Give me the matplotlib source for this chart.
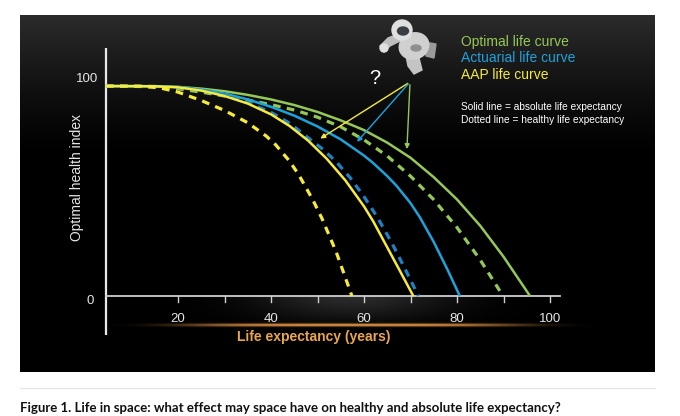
import matplotlib
matplotlib.use('Agg')
import matplotlib.pyplot as plt
from matplotlib.patches import Ellipse, Circle, Polygon
import numpy as np

# curves: (age, health index)
aap_healthy_x = [4.5, 12, 16, 20, 25, 30, 35, 39, 41, 44, 46, 49, 51, 54, 57.4]
aap_healthy_y = [97.2, 97.1, 96.4, 94.4, 90.5, 85.9, 80.2, 74.0, 70.0, 62.4, 56.0, 44.5, 35.7, 20.5, 0.0]

aap_abs_x = [4.5, 15, 20, 25, 30, 35, 40, 44, 48, 52, 56, 60, 62, 65, 68, 70.6]
aap_abs_y = [97.2, 97.1, 96.6, 95.1, 92.6, 89.1, 84.1, 78.7, 71.9, 63.5, 53.5, 41.5, 34.5, 22.5, 10.5, 0.0]

act_healthy_x = [4.5, 15, 20, 25, 30, 35, 40, 44, 48, 51, 54, 57, 60, 63, 66, 69, 71.7]
act_healthy_y = [97.2, 97.1, 96.6, 95.2, 93.0, 89.5, 85.0, 80.0, 73.2, 68.2, 62.2, 54.8, 46.0, 36.0, 24.5, 11.8, 0.0]

act_abs_x = [4.5, 15, 20, 25, 30, 35, 40, 45, 50, 55, 60, 62, 65, 67, 70, 72, 75, 78, 80.6]
act_abs_y = [97.2, 97.1, 96.7, 95.6, 93.7, 91.0, 87.6, 83.5, 78.5, 72.5, 65.0, 61.5, 55.5, 51.0,
             43.0, 36.5, 25.0, 12.0, 0.0]

opt_healthy_x = [4.5, 15, 20, 25, 30, 35, 40, 45, 50, 55, 60, 65, 70, 75, 80, 85, 89.9]
opt_healthy_y = [97.2, 96.9, 95.9, 94.4, 92.6, 90.7, 88.6, 86.1, 82.8, 78.3, 72.3, 64.8, 55.5,
                 44.6, 31.7, 16.7, 0.0]

opt_abs_x = [4.5, 15, 20, 25, 30, 35, 40, 45, 50, 55, 60, 65, 70, 75, 80, 85, 90, 95.7]
opt_abs_y = [97.2, 97.1, 96.8, 96.0, 94.8, 93.1, 91.0, 88.4, 85.2, 81.3, 76.8, 71.0, 64.0, 55.0,
             44.7, 32.5, 18.2, 0.0]

x_ticks = [20, 30, 40, 50, 60, 70, 80, 90, 100]
x_tick_labels = ['20', '', '40', '', '60', '', '80', '', '100']

legend_names = ['Optimal life curve', 'Actuarial life curve', 'AAP life curve']

arrow_start = (69.9, 99.1)
arrow_tips = [(50.1, 72.2), (58.1, 70.4), (69.2, 66.7)]

GREEN = '#95c857'
BLUE = '#1ca3dc'
BLUE_D = '#1f80c4'
YELLOW = '#f6ea3a'

fig = plt.figure(figsize=(6.8, 4.16), dpi=100, facecolor='white')
ax = fig.add_axes([20 / 680, 1 - 372 / 416, 635 / 680, 357 / 416])
x0, x1 = -13.98, 122.58
y0, y1 = -35.19, 130.09
ax.set_xlim(x0, x1)
ax.set_ylim(y0, y1)
ax.axis('off')

# dark panel, slightly lighter at the top
rows = np.linspace(0, 1, 200)
shade = np.clip(1 - rows / 0.4, 0, 1) ** 1.3 * 0.17
bg = np.repeat(shade[:, None], 2, axis=1)
bg = np.dstack([bg, bg, bg])
ax.imshow(bg, extent=[x0, x1, y0, y1], aspect='auto', zorder=0, interpolation='bilinear')

# orange glow under the x axis
gx = np.linspace(-1, 1, 500)
gy = np.linspace(0, 1, 80)
GX, GY = np.meshgrid(gx, gy)
band = np.exp(-((GY - 0.5) / 0.025) ** 2) * np.exp(-(GX / 0.6) ** 4)
haze = np.clip((GY - 0.5) / 0.5, 0, 1) ** 0.7 * np.exp(-(GX / 0.35) ** 2) * 0.3
haze[GY < 0.5] = 0
glow = np.zeros((80, 500, 4))
glow[..., 0] = np.where(band > haze, 0.95, 0.6)
glow[..., 1] = np.where(band > haze, 0.62, 0.6)
glow[..., 2] = np.where(band > haze, 0.3, 0.6)
glow[..., 3] = np.clip(band + haze, 0, 1)
ax.imshow(glow, extent=[-3, 118, -26.8, 0], aspect='auto', zorder=1, origin='lower',
          interpolation='bilinear')

# axes lines
ax.plot([4.5, 4.5], [-18, 114.8], color='#e8e8e8', lw=1.6, zorder=3, solid_capstyle='butt')
ax.plot([4.5, 102.2], [0, 0], color='#cfcfcf', lw=1.3, zorder=3)
for t, lab in zip(x_ticks, x_tick_labels):
    ax.plot([t, t], [0, -2.6], color='#cfcfcf', lw=1.0, zorder=3)
    if lab:
        ax.text(t, -10.6, lab, color='#e6e6e6', fontsize=9.5, ha='center', va='center',
                family='Liberation Sans', zorder=4)
ax.text(2.8, 100.5, '100', color='#e6e6e6', fontsize=9.5, ha='right', va='center',
        family='Liberation Sans')
ax.text(2.0, -2.5, '0', color='#e6e6e6', fontsize=9.5, ha='right', va='center',
        family='Liberation Sans')
ax.text(-1.8, 55, 'Optimal health index', color='#e6e6e6', fontsize=10, rotation=90,
        ha='center', va='center', family='Liberation Sans')
ax.text(49.2, -19.2, 'Life expectancy (years)', color='#eaa64e', fontsize=10,
        fontweight='bold', ha='center', va='center', family='Liberation Sans')

# curves
solid = dict(lw=1.8, zorder=5, solid_capstyle='butt', solid_joinstyle='round')
dash = dict(lw=2.3, zorder=5, dashes=(2.4, 2.0))
ax.plot(opt_abs_x, opt_abs_y, color=GREEN, **solid)
ax.plot(opt_healthy_x, opt_healthy_y, color=GREEN, **dash)
ax.plot(act_abs_x, act_abs_y, color=BLUE, **solid)
ax.plot(act_healthy_x, act_healthy_y, color=BLUE_D, **dash)
ax.plot(aap_abs_x, aap_abs_y, color=YELLOW, **solid)
ax.plot(aap_healthy_x, aap_healthy_y, color=YELLOW, **dash)

# arrows from the astronaut
for tip, c in zip(arrow_tips, [YELLOW, BLUE, GREEN]):
    ax.annotate('', xy=tip, xytext=arrow_start,
                arrowprops=dict(arrowstyle='-|>', color=c, lw=1.0, mutation_scale=7),
                zorder=6)
ax.text(62.4, 100.5, '?', color='white', fontsize=14.5, ha='center', va='center',
        family='Liberation Sans')

# legend text
for i, (name, c) in enumerate(zip(legend_names, [GREEN, BLUE, YELLOW])):
    fig.text(461 / 680, 1 - (42 + 16.5 * i) / 416, name, color=c, fontsize=10,
             ha='left', va='center', family='Liberation Sans')
fig.text(461 / 680, 1 - 107 / 416, 'Solid line = absolute life expectancy', color='white',
         fontsize=7.3, ha='left', va='center', family='Liberation Sans')
fig.text(461 / 680, 1 - 120 / 416, 'Dotted line = healthy life expectancy', color='white',
         fontsize=7.3, ha='left', va='center', family='Liberation Sans')

# rough astronaut figure
aa = fig.add_axes([372 / 680, 1 - 78 / 416, 70 / 680, 62 / 416])
aa.set_xlim(0, 70)
aa.set_ylim(62, 0)
aa.axis('off')
aa.add_patch(Polygon([[8, 30], [16, 22], [26, 18], [30, 24], [18, 30], [12, 36]],
                     color='#bdbdbd', zorder=1))
aa.add_patch(Ellipse((42, 30), 30, 26, angle=-20, color='#d0d0d0', zorder=2))
aa.add_patch(Polygon([[34, 40], [46, 38], [50, 54], [42, 58], [36, 50]],
                     color='#c4c4c4', zorder=1))
aa.add_patch(Polygon([[52, 26], [64, 28], [62, 42], [54, 40]], color='#9a9a9a', zorder=1))
aa.add_patch(Circle((30, 14), 10, color='#e0e0e0', zorder=3))
aa.add_patch(Ellipse((31, 15), 11, 8, color='#3a3f45', zorder=4))
aa.add_patch(Ellipse((44, 32), 10, 6, color='#8f8f8f', zorder=4))
aa.add_patch(Circle((12, 32), 4, color='#e0e0e0', zorder=3))

# caption
fig.add_artist(plt.Line2D([20 / 680, 655 / 680], [1 - 388 / 416] * 2, color='#e3e3e3', lw=0.8))
fig.text(20 / 680, 1 - 408 / 416,
         'Figure 1. Life in space: what effect may space have on healthy and absolute life expectancy?',
         fontsize=9.5, fontweight='bold', ha='left', va='center', family='Lato', color='#111111')

fig.savefig('out.png', dpi=100, facecolor='white')
